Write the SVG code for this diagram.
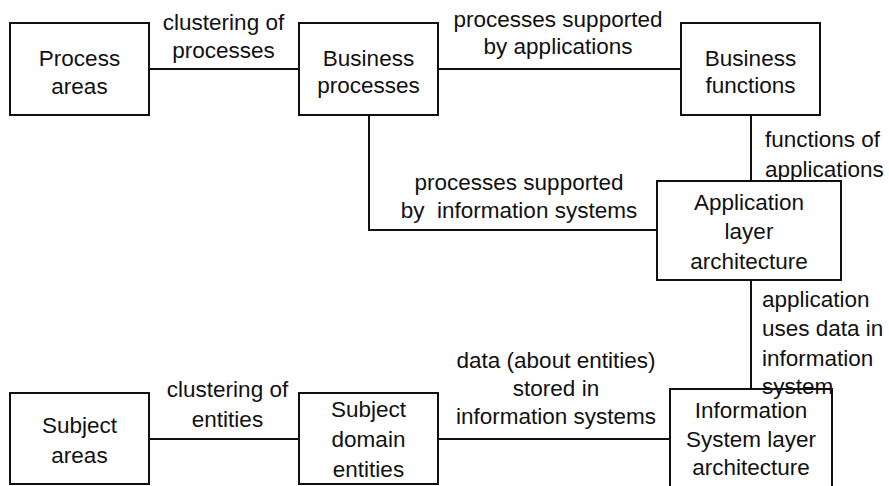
<svg xmlns="http://www.w3.org/2000/svg" width="889" height="486" viewBox="0 0 889 486">
<style>
.box{fill:#fff;stroke:#111;stroke-width:2}
.con{fill:none;stroke:#111;stroke-width:2}
text{font-family:"Liberation Sans",Arial,sans-serif;font-size:22.5px;fill:#111}
.c{text-anchor:middle}
.l{text-anchor:start}
</style>
<rect width="889" height="486" fill="#fff"/>
<g id="connectors">
<line class="con" x1="149" y1="69" x2="299" y2="69"/>
<line class="con" x1="438" y1="69" x2="681" y2="69"/>
<line class="con" x1="751" y1="115" x2="751" y2="181"/>
<polyline class="con" points="369,115 369,230 657,230"/>
<line class="con" x1="751" y1="280" x2="751" y2="389"/>
<line class="con" x1="149" y1="439" x2="299" y2="439"/>
<line class="con" x1="438" y1="439" x2="670" y2="439"/>
</g>
<g id="process-areas">
<rect class="box" x="10" y="23" width="139" height="92"/>
<text class="c" x="79.5" y="65.5">Process</text>
<text class="c" x="79.5" y="94">areas</text>
</g>
<g id="business-processes">
<rect class="box" x="299" y="23" width="139" height="92"/>
<text class="c" x="368.5" y="65.5">Business</text>
<text class="c" x="368.5" y="93">processes</text>
</g>
<g id="business-functions">
<rect class="box" x="681" y="23" width="139" height="92"/>
<text class="c" x="750.5" y="65.5">Business</text>
<text class="c" x="750.5" y="93">functions</text>
</g>
<g id="application-layer">
<rect class="box" x="657" y="181" width="184" height="99"/>
<text class="c" x="749" y="209.5">Application</text>
<text class="c" x="749" y="239">layer</text>
<text class="c" x="749" y="269">architecture</text>
</g>
<g id="subject-areas">
<rect class="box" x="10" y="393" width="139" height="91"/>
<text class="c" x="79.5" y="433">Subject</text>
<text class="c" x="79.5" y="463">areas</text>
</g>
<g id="subject-domain-entities">
<rect class="box" x="299" y="393" width="139" height="91"/>
<text class="c" x="368.5" y="417">Subject</text>
<text class="c" x="368.5" y="446.5">domain</text>
<text class="c" x="368.5" y="476.5">entities</text>
</g>
<g id="information-system-layer">
<rect class="box" x="670" y="389" width="162" height="120"/>
<text class="c" x="751" y="418">Information</text>
<text class="c" x="751" y="446.5">System layer</text>
<text class="c" x="751" y="475">architecture</text>
</g>
<g id="labels">
<text class="c" x="223.5" y="30">clustering of</text>
<text class="c" x="223.5" y="58">processes</text>
<text class="c" x="558" y="26.5">processes supported</text>
<text class="c" x="558" y="53.5">by applications</text>
<text class="l" x="765" y="146.5">functions of</text>
<text class="l" x="765" y="176.5">applications</text>
<text class="c" x="519" y="190">processes supported</text>
<text class="c" x="519" y="218" xml:space="preserve">by  information systems</text>
<text class="l" x="762" y="306.5">application</text>
<text class="l" x="762" y="336">uses data in</text>
<text class="l" x="762" y="366">information</text>
<text class="l" x="762" y="394">system</text>
<text class="c" x="556" y="368">data (about entities)</text>
<text class="c" x="556" y="395.5">stored in</text>
<text class="c" x="556" y="424">information systems</text>
<text class="c" x="227.5" y="397">clustering of</text>
<text class="c" x="227.5" y="426.5">entities</text>
</g>
</svg>
